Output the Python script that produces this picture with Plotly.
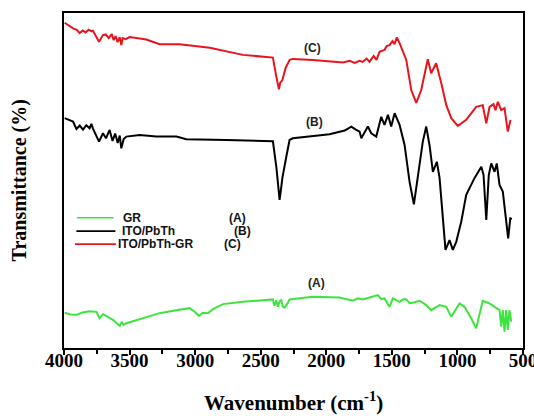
import plotly.graph_objects as go

# FTIR spectra: wavenumber (cm^-1) and transmittance (offset, arbitrary %)
wn_gr = [3995, 3950, 3905, 3860, 3804, 3753, 3728, 3703, 3627, 3600, 3575, 3560, 3545, 3524, 3398,
         3271, 3143, 3042, 3004, 2971, 2941, 2902, 2864, 2788, 2636, 2407, 2395, 2381, 2369, 2356,
         2343, 2331, 2318, 2300, 2280, 2102, 1899, 1797, 1760, 1721, 1670, 1607, 1580, 1556, 1518,
         1492, 1441, 1410, 1390, 1365, 1340, 1289, 1238, 1200, 1136, 1085, 1047, 1022, 984, 946,
         895, 857, 832, 807, 755, 704, 679, 666, 654, 641, 628, 616, 603, 590]
tr_gr = [10.5, 10.0, 9.9, 10.6, 11.0, 10.8, 8.9, 10.1, 8.4, 7.6, 6.6, 7.8, 6.9, 7.4, 8.9,
         10.4, 11.3, 11.9, 10.8, 9.6, 10.5, 10.4, 11.6, 13.1, 13.8, 14.5, 12.6, 14.2, 12.3, 14.0,
         14.3, 12.3, 12.1, 13.0, 14.5, 15.3, 15.1, 14.1, 14.8, 14.5, 15.1, 15.8, 14.6, 14.8, 12.3,
         14.8, 13.8, 14.6, 14.5, 13.4, 13.5, 14.1, 12.8, 11.3, 12.8, 12.3, 9.3, 10.8, 13.3, 12.3,
         8.9, 5.9, 9.9, 14.1, 13.3, 11.9, 11.3, 6.4, 11.3, 4.9, 11.3, 5.4, 11.3, 7.9]

wn_pbth = [3995, 3931, 3905, 3880, 3855, 3830, 3805, 3791, 3779, 3733, 3703, 3680, 3652, 3630,
           3610, 3590, 3575, 3563, 3545, 3524, 3423, 3296, 3143, 3067, 2762, 2610, 2407, 2381,
           2356, 2345, 2335, 2305, 2280, 2255, 1975, 1860, 1809, 1775, 1746, 1733, 1683, 1657,
           1619, 1581, 1556, 1530, 1505, 1479, 1454, 1441, 1403, 1365, 1332, 1302, 1264, 1238,
           1213, 1187, 1157, 1136, 1111, 1091, 1060, 1035, 1009, 971, 933, 870, 818, 801, 780, 761,
           742, 717, 700, 679, 654, 628, 613, 597, 585]
tr_pbth = [68.6, 67.6, 65.4, 66.4, 65.2, 66.5, 65.6, 66.9, 65.5, 61.6, 64.1, 62.6, 65.1, 61.8,
           64.0, 61.2, 63.4, 59.6, 62.4, 63.1, 63.6, 63.1, 63.1, 62.3, 62.1, 61.9, 61.7, 54.1,
           44.2, 47.5, 50.7, 57.1, 62.1, 62.6, 63.8, 64.9, 66.1, 65.2, 64.6, 62.6, 66.1, 64.1,
           63.1, 69.0, 66.6, 69.6, 66.1, 70.1, 68.1, 66.6, 60.6, 49.6, 42.9, 50.7, 61.6, 66.1,
           60.6, 52.6, 55.6, 50.7, 38.7, 29.3, 32.2, 29.3, 31.7, 37.7, 45.7, 50.7, 54.1, 51.7, 38.2,
           51.6, 55.1, 52.6, 55.1, 48.7, 46.7, 37.7, 32.7, 38.7, 38.5]

wn_comp = [3995, 3931, 3903, 3880, 3857, 3835, 3812, 3789, 3779, 3733, 3703, 3682, 3659, 3636,
           3621, 3606, 3591, 3575, 3563, 3553, 3530, 3500, 3372, 3271, 3118, 2889, 2636, 2407,
           2381, 2361, 2352, 2335, 2310, 2279, 2255, 2102, 1873, 1822, 1784, 1746, 1723, 1693,
           1670, 1639, 1617, 1594, 1556, 1540, 1518, 1495, 1480, 1462, 1441, 1390, 1352, 1314,
           1276, 1226, 1200, 1162, 1123, 1085, 1047, 997, 933, 857, 807, 780, 755, 725, 710, 692,
           666, 641, 616, 595]
tr_comp = [97.1, 95.4, 95.0, 94.0, 94.8, 94.2, 95.0, 94.5, 94.7, 91.4, 93.4, 93.6, 92.5, 93.7,
           91.9, 93.1, 91.3, 92.8, 90.4, 92.5, 92.2, 92.8, 92.1, 90.7, 90.7, 89.6, 87.5, 86.7,
           81.0, 77.2, 79.1, 80.0, 83.6, 86.0, 86.3, 86.0, 85.2, 85.7, 85.1, 85.7, 85.4, 86.4,
           85.4, 87.2, 86.0, 88.4, 89.0, 90.1, 90.4, 91.6, 90.7, 92.7, 91.0, 86.0, 77.0, 73.2,
           77.0, 86.2, 82.0, 85.0, 79.0, 72.5, 68.6, 66.3, 68.1, 72.0, 72.5, 67.1, 72.0, 72.8,
           71.0, 73.5, 71.0, 71.6, 64.6, 68.1]

series = [
    ("GR", "(A)", wn_gr, tr_gr, "#3ee43e"),
    ("ITO/PbTh", "(B)", wn_pbth, tr_pbth, "#000000"),
    ("ITO/PbTh-GR", "(C)", wn_comp, tr_comp, "#e8141c"),
]

# curve tags placed above each spectrum (wavenumber, transmittance)
tag_pos = {"(A)": (2076, 19.4), "(B)": (2089, 67.6), "(C)": (2104, 89.6)}

fig = go.Figure()
for name, tag, x, y, color in series:
    fig.add_trace(go.Scatter(x=x, y=y, mode="lines", name=name,
                             line=dict(color=color, width=2), showlegend=False))
    tx, ty = tag_pos[tag]
    fig.add_annotation(x=tx, y=ty, text=tag, showarrow=False,
                       font=dict(family="Liberation Sans", size=12, color="#222222", weight="bold"))

# hand-placed legend inside the plot (paper coordinates)
legend_rows = [
    # (line x0, line x1, y, name x, tag x)
    (0.028, 0.108, 0.389, 0.127, 0.357),
    (0.027, 0.112, 0.349, 0.124, 0.369),
    (0.024, 0.113, 0.310, 0.116, 0.346),
]
for (name, tag, _, _, color), (lx0, lx1, ly, nx, tgx) in zip(series, legend_rows):
    fig.add_shape(type="line", xref="paper", yref="paper", x0=lx0, x1=lx1, y0=ly, y1=ly,
                  line=dict(color=color, width=1.6))
    fig.add_annotation(xref="paper", yref="paper", x=nx, y=ly, text=name, showarrow=False,
                       xanchor="left", yanchor="middle", borderpad=0,
                       font=dict(family="Liberation Sans", size=12, color="#111111", weight="bold"))
    fig.add_annotation(xref="paper", yref="paper", x=tgx, y=ly, text=tag, showarrow=False,
                       xanchor="left", yanchor="middle", borderpad=0,
                       font=dict(family="Liberation Sans", size=12, color="#111111", weight="bold"))

# axis titles
fig.add_annotation(xref="paper", yref="paper", x=-0.096, y=0.5, text="Transmittance (%)",
                   textangle=-90, showarrow=False, xanchor="center", yanchor="middle",
                   font=dict(family="Liberation Serif", size=20, color="black", weight="bold"))
fig.add_annotation(xref="paper", yref="paper", x=0.5, y=-0.160, text="Wavenumber (cm<sup>-1</sup>)",
                   showarrow=False, xanchor="center", yanchor="middle",
                   font=dict(family="Liberation Serif", size=21, color="black", weight="bold"))

fig.update_layout(
    width=534, height=416,
    margin=dict(l=64, r=11, t=13, b=68),
    paper_bgcolor="white", plot_bgcolor="white",
    xaxis=dict(range=[4000, 500], dtick=500, tick0=500, automargin=False,
               showgrid=False, zeroline=False,
               showline=True, linecolor="black", linewidth=2, mirror=True,
               ticks="outside", ticklen=5, tickwidth=1.5, tickcolor="black",
               minor=dict(dtick=250, tick0=500, ticks="outside", ticklen=4,
                          tickwidth=1.5, tickcolor="black", showgrid=False),
               ticklabeloverflow="allow", ticklabelstandoff=-11,
               tickfont=dict(family="Liberation Serif", size=19, color="black", weight="bold")),
    yaxis=dict(range=[0, 100], showticklabels=False, ticks="", showgrid=False, zeroline=False,
               automargin=False,
               showline=True, linecolor="black", linewidth=2, mirror=True),
)

fig.write_html("out.html")
